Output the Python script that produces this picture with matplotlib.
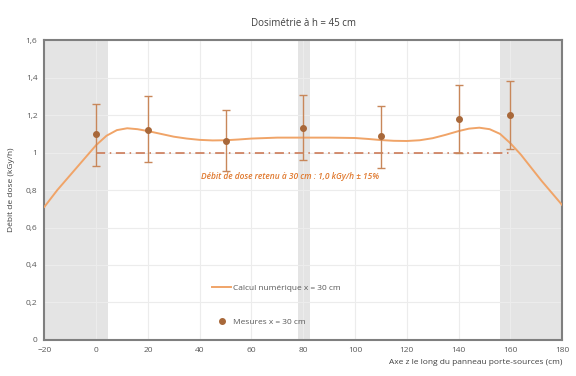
import numpy as np
import matplotlib.pyplot as plt
from matplotlib.lines import Line2D

# Numerical calculation (z = 30 cm)
calc_x = [-20, -15, -10, -5, 0, 4, 8, 12, 16, 20, 25, 30, 35, 40, 45, 50, 55, 60, 70, 80,
          90, 100, 105, 110, 115, 120, 125, 130, 135, 140, 144, 148, 152, 156, 160, 164,
          168, 172, 176, 180]
calc_y = [0.71, 0.80, 0.88, 0.96, 1.04, 1.09, 1.12, 1.13, 1.125, 1.115, 1.10, 1.085, 1.075,
          1.068, 1.065, 1.066, 1.07, 1.075, 1.08, 1.08, 1.08, 1.078, 1.073, 1.067, 1.063,
          1.062, 1.066, 1.077, 1.095, 1.115, 1.128, 1.133, 1.125, 1.10, 1.05, 0.99, 0.92,
          0.85, 0.785, 0.72]

# Measurements
meas_x = [0, 20, 50, 80, 110, 140, 160]
meas_y = [1.10, 1.12, 1.06, 1.13, 1.09, 1.18, 1.20]
meas_lo = [0.93, 0.95, 0.90, 0.96, 0.92, 1.00, 1.02]
meas_hi = [1.26, 1.30, 1.23, 1.31, 1.25, 1.36, 1.38]

# Shaded zones along the panel
bands = [(-20, 4.5), (78, 82.5), (156, 180)]

ref_x = [0, 160]
ref_y = [1.0, 1.0]

yticks = [0, 0.2, 0.4, 0.6, 0.8, 1.0, 1.2, 1.4, 1.6]
ytick_labels = ['0', '0,2', '0,4', '0,6', '0,8', '1', '1,2', '1,4', '1,6']
xticks = list(range(-20, 181, 20))

plt.rcParams['font.family'] = ['Open Sans', 'DejaVu Sans']
fig = plt.figure(figsize=(5.76, 3.76), dpi=100)
ax = fig.add_axes([0.077, 0.096, 0.899, 0.797])

for a, b in bands:
    ax.axvspan(a, b, color='#e4e4e4', zorder=0, lw=0)

ax.plot(calc_x, calc_y, color='#f0a468', lw=1.4, zorder=3)
yerr = [np.array(meas_y) - np.array(meas_lo), np.array(meas_hi) - np.array(meas_y)]
ax.errorbar(meas_x, meas_y, yerr=yerr, fmt='o', ms=4, color='#a8683a', ecolor='#c8875a',
            elinewidth=1, capsize=3, capthick=1, zorder=4)
ax.plot(ref_x, ref_y, color='#c8704a', lw=1.1, ls=(0, (6, 3, 1, 3)), zorder=2)

ax.text(75, 0.87, 'Débit de dose retenu à 30 cm : 1,0 kGy/h ± 15%', color='#e07a30',
        style='italic', fontsize=6, fontweight='semibold', ha='center', va='center')

ax.set_xlim(-20, 180)
ax.set_ylim(0, 1.6)
ax.set_xticks(xticks)
ax.set_yticks(yticks)
ax.set_yticklabels(ytick_labels)
ax.tick_params(length=0, labelsize=6, colors='#595959', pad=5)
ax.grid(True, color='#ececec', lw=0.8, zorder=1)
ax.set_axisbelow(True)
for s in ax.spines.values():
    s.set_color('#7f7f7f')
    s.set_linewidth(1.5)

ax.set_title('Dosimétrie à h = 45 cm', fontsize=7, color='#404040', pad=10)
ax.set_ylabel('Débit de dose (kGy/h)', fontsize=6, color='#404040', labelpad=8)
ax.set_xlabel('Axe z le long du panneau porte-sources (cm)', fontsize=6, color='#404040',
              loc='right', labelpad=4)

handles = [Line2D([], [], color='#f0a468', lw=1.4),
           Line2D([], [], color='#a8683a', marker='o', ms=4, ls='none')]
labels = ['Calcul numérique x = 30 cm', 'Mesures x = 30 cm']
ax.legend(handles, labels, loc='lower left', bbox_to_anchor=(0.31, 0.02), frameon=False,
          fontsize=6, labelspacing=3.2, handlelength=2.2, handletextpad=0.3,
          labelcolor='#595959')

fig.savefig('out.png', dpi=100)
